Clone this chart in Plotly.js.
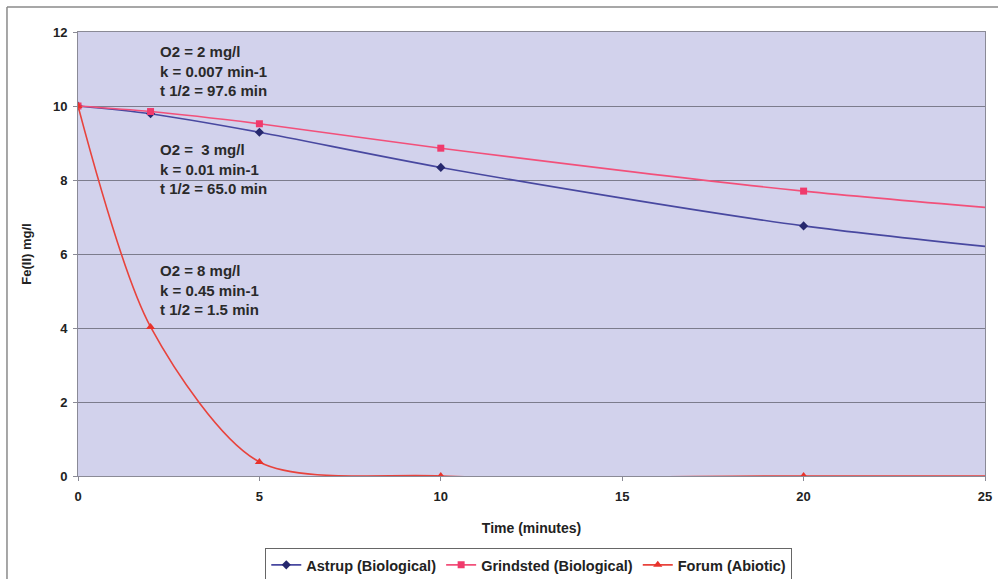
<!DOCTYPE html>
<html>
<head>
<meta charset="utf-8">
<script src="https://cdn.plot.ly/plotly-3.0.1.min.js"></script>
<style>html,body{margin:0;padding:0;background:#fff;}#chart{width:998px;height:579px;}</style>
</head>
<body>
<div id="chart"></div>
<script>
// Time (minutes)
const timeMin = [0, 2, 5, 10, 20, 30];
// Fe(II) mg/l
const astrup = [10, 9.79, 9.29, 8.34, 6.76, 5.72];
const grindsted = [10, 9.85, 9.52, 8.86, 7.70, 6.86];
const forum = [10, 4.03, 0.38, 0, 0, 0];
const seriesNames = ['Astrup (Biological)', 'Grindsted (Biological)', 'Forum (Abiotic)'];
const xTicks = [0, 5, 10, 15, 20, 25];
const yTicks = [0, 2, 4, 6, 8, 10, 12];
const notes = [
  {x: 2.2, y: 11.75, text: 'O2 = 2 mg/l<br>k = 0.007 min-1<br>t 1/2 = 97.6 min'},
  {x: 2.2, y: 9.1, text: 'O2 =  3 mg/l<br>k = 0.01 min-1<br>t 1/2 = 65.0 min'},
  {x: 2.2, y: 5.85, text: 'O2 = 8 mg/l<br>k = 0.45 min-1<br>t 1/2 = 1.5 min'}
];

const font = 'Liberation Sans, Arial, sans-serif';
const traces = [
  {x: timeMin, y: astrup, name: seriesNames[0], mode: 'lines+markers',
   line: {color: '#4848a0', width: 1.6, shape: 'spline', smoothing: 0.8},
   marker: {symbol: 'diamond', size: 7, color: '#26286e'}},
  {x: timeMin, y: grindsted, name: seriesNames[1], mode: 'lines+markers',
   line: {color: '#f2507a', width: 1.6, shape: 'spline', smoothing: 0.8},
   marker: {symbol: 'square', size: 7, color: '#f03a6c'}},
  {x: timeMin, y: forum, name: seriesNames[2], mode: 'lines+markers',
   line: {color: '#e8433c', width: 1.6, shape: 'spline', smoothing: 0.8},
   marker: {symbol: 'triangle-up', size: 8, color: '#e8332c'}}
];

const layout = {
  width: 998, height: 579,
  margin: {l: 78, r: 13, t: 32, b: 103, autoexpand: false},
  paper_bgcolor: '#ffffff',
  plot_bgcolor: '#d2d2ec',
  font: {family: font, color: '#222', size: 13},
  showlegend: true,
  legend: {orientation: 'h', x: 0.497, xanchor: 'center', y: -0.162, yanchor: 'top',
    bgcolor: '#ffffff', bordercolor: '#666', borderwidth: 1,
    font: {family: font, size: 14.5, weight: 'bold', color: '#222'},
    itemwidth: 30, tracegroupgap: 0},
  xaxis: {
    range: [0, 25], tickvals: xTicks, ticktext: xTicks.map(String),
    showgrid: false, zeroline: false, showline: true, mirror: true,
    linecolor: '#8a8a96', linewidth: 1, ticks: 'outside', ticklen: 4, tickcolor: '#8a8a96',
    ticklabelstandoff: 4,
    tickfont: {family: font, size: 13, weight: 'bold', color: '#222'},
    title: {text: 'Time (minutes)', font: {family: font, size: 14, weight: 'bold', color: '#222'}, standoff: 20},
    automargin: false
  },
  yaxis: {
    range: [0, 12], tickvals: yTicks, ticktext: yTicks.map(String),
    showgrid: true, gridcolor: '#7c7c8c', gridwidth: 1, zeroline: false,
    showline: true, mirror: true, linecolor: '#8a8a96', linewidth: 1,
    ticks: 'outside', ticklen: 4, tickcolor: '#8a8a96',
    ticklabelstandoff: 3,
    tickfont: {family: font, size: 13, weight: 'bold', color: '#222'},
    title: {text: 'Fe(II) mg/l', font: {family: font, size: 13, weight: 'bold', color: '#222'}, standoff: 18},
    automargin: false
  },
  annotations: notes.map(n => ({x: n.x, y: n.y, xref: 'x', yref: 'y', text: n.text,
    showarrow: false, xanchor: 'left', yanchor: 'top', align: 'left',
    font: {family: font, size: 15, weight: 'bold', color: '#2a2a2a'}})),
  shapes: [
    {type: 'line', xref: 'paper', yref: 'paper', x0: -0.0783, x1: 1.03, y0: 1.0563, y1: 1.0563,
     line: {color: '#8a8a8a', width: 1.5}},
    {type: 'line', xref: 'paper', yref: 'paper', x0: -0.0783, x1: -0.0783, y0: 1.0563, y1: -0.26,
     line: {color: '#8a8a8a', width: 1.5}}
  ]
};

Plotly.newPlot('chart', traces, layout, {displayModeBar: false, staticPlot: true});
</script>
</body>
</html>
